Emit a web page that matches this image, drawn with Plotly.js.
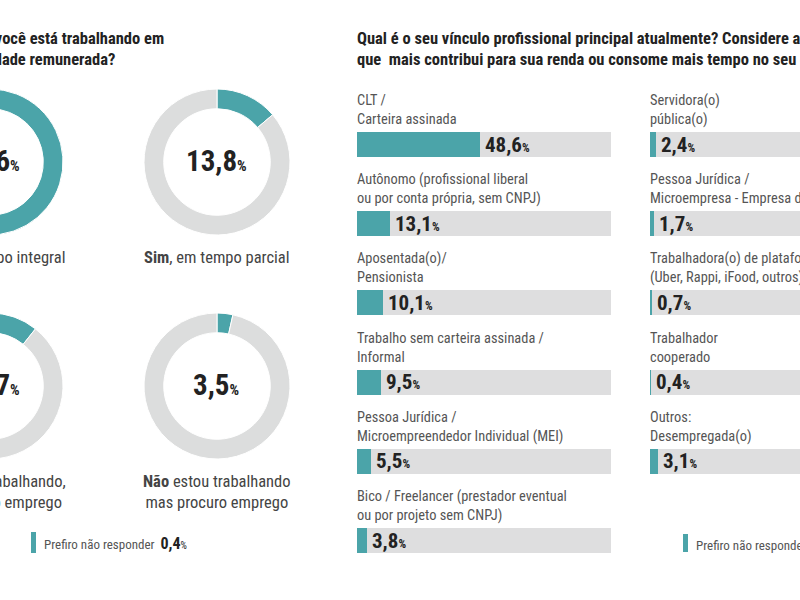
<!DOCTYPE html>
<html>
<head>
<meta charset="utf-8">
<script src="https://cdn.plot.ly/plotly-3.0.1.min.js"></script>
<style>
  html, body { margin: 0; padding: 0; background: #fff; overflow: hidden; }
  #frame { position: relative; width: 800px; height: 600px; overflow: hidden; background: #fff; }
  #chart { position: absolute; left: -100px; top: 0; width: 1010px; height: 600px; }
</style>
</head>
<body>
<div id="frame"><div id="chart"></div></div>
<script>
// ---- data: employment status (donuts) ----
const donutLead = ['Sim', 'Sim', 'Não', 'Não'];
const donutRest = [', em tempo integral', ', em tempo parcial',
                   ' estou trabalhando,<br>nem procuro emprego',
                   ' estou trabalhando<br>mas procuro emprego'];
const donutValues = [71.6, 13.8, 10.7, 3.5];
const donutNoAnswer = 0.4;

// ---- data: main professional bond (bars) ----
const leftCategories = [
  'CLT /<br>Carteira assinada',
  'Autônomo (profissional liberal<br>ou por conta própria, sem CNPJ)',
  'Aposentada(o)/<br>Pensionista',
  'Trabalho sem carteira assinada /<br>Informal',
  'Pessoa Jurídica /<br>Microempreendedor Individual (MEI)',
  'Bico / Freelancer (prestador eventual<br>ou por projeto sem CNPJ)'
];
const leftValues = [48.6, 13.1, 10.1, 9.5, 5.5, 3.8];
const rightCategories = [
  'Servidora(o)<br>pública(o)',
  'Pessoa Jurídica /<br>Microempresa - Empresa de Pequeno Porte',
  'Trabalhadora(o) de plataforma<br>(Uber, Rappi, iFood, outros)',
  'Trabalhador<br>cooperado',
  'Outros:<br>Desempregada(o)'
];
const rightValues = [2.4, 1.7, 0.7, 0.4, 3.1];
const barsNoAnswer = 1.1;

const titleLeft = ['Atualmente, você está trabalhando em', 'alguma atividade remunerada?'];
const titleRight = ['Qual é o seu vínculo profissional principal atualmente? Considere a atividade',
                    'que  mais contribui para sua renda ou consome mais tempo no seu dia a dia'];

// ---- styling ----
const TEAL = '#4ba4a9';
const RING = '#dcdddd';
const TRACK = '#dededf';
const DARK = '#222222';
const MID = '#555555';

function pickFont(candidates, fallback) {
  const ctx = document.createElement('canvas').getContext('2d');
  const probe = 'mmmmmmmmmwwwlliiQ 0123';
  for (const name of candidates) {
    for (const base of ['monospace', 'serif']) {
      ctx.font = '72px ' + base;
      const w0 = ctx.measureText(probe).width;
      ctx.font = '72px "' + name + '", ' + base;
      if (ctx.measureText(probe).width !== w0) return name;
    }
  }
  return fallback;
}
const FONT = pickFont(['Roboto Condensed', 'Liberation Sans Narrow', 'DejaVu Sans Condensed', 'Arial Narrow'], 'Roboto');

// canvas geometry (the drawing is wider than the visible frame)
const W = 1010, H = 600, OX = 100;
const px = vx => (vx + OX) / W;
const py = vy => 1 - vy / H;

const fmt = v => v.toFixed(1).replace('.', ',');

const traces = [];
const annotations = [];
const shapes = [];

// ---- donuts ----
const donutCX = [-10, 217], donutCY = [162, 386], R = 73;
donutValues.forEach((v, i) => {
  const cx = donutCX[i % 2], cy = donutCY[Math.floor(i / 2)];
  traces.push({
    type: 'pie', values: [v, 100 - v], sort: false, direction: 'clockwise', rotation: 0,
    hole: 0.73, textinfo: 'none', hoverinfo: 'skip', showlegend: false,
    marker: { colors: [TEAL, RING], line: { color: '#ffffff', width: 1 } },
    domain: { x: [px(cx - R), px(cx + R)], y: [py(cy + R), py(cy - R)] }
  });
  annotations.push({
    xref: 'paper', yref: 'paper', x: px(cx - 1), y: py(cy - 1), xanchor: 'center', yanchor: 'middle',
    showarrow: false, text: fmt(v) + "<span style='font-size:15px'>%</span>",
    font: { family: FONT, size: 29, color: DARK, weight: 700 }
  });
  annotations.push({
    xref: 'paper', yref: 'paper', x: px(cx), y: py(cy + 84), xanchor: 'center', yanchor: 'top',
    showarrow: false, align: 'center', text: '<b>' + donutLead[i] + '</b>' + donutRest[i],
    font: { family: FONT, size: 16.5, color: '#444444' }
  });
});

// left titles (one annotation per line)
[166, 117].forEach((endX, k) => {
  annotations.push({
    xref: 'paper', yref: 'paper', x: px(endX), y: py(39 + 20 * k), xanchor: 'right', yanchor: 'middle',
    showarrow: false, text: titleLeft[k], font: { family: FONT, size: 16.5, color: DARK, weight: 700 }
  });
});

// no-answer note under donuts
shapes.push({ type: 'rect', xref: 'paper', yref: 'paper', x0: px(31), x1: px(36), y0: py(553), y1: py(532),
  fillcolor: TEAL, line: { width: 0 } });
annotations.push({
  xref: 'paper', yref: 'paper', x: px(42), y: py(543), xanchor: 'left', yanchor: 'middle', showarrow: false,
  text: "Prefiro não responder  <span style='font-size:16px;color:#222'><b>" + fmt(donutNoAnswer) +
        "</b></span><span style='font-size:10px;color:#222'>%</span>",
  font: { family: FONT, size: 13, color: MID }
});

// ---- bars ----
const UNIT = 2.54;            // px per percentage point
const BAR_X0 = 357;           // left column start (frame px)
const COL2 = (650 - BAR_X0) / UNIT;   // right column offset in % units
const ROW0 = 144.5, STEP = 79.2, BAR_H = 25;

const cats = leftCategories.concat(rightCategories);
const vals = leftValues.concat(rightValues);
const rows = leftValues.map((_, i) => i).concat(rightValues.map((_, i) => i));
const bases = leftValues.map(() => 0).concat(rightValues.map(() => COL2));

traces.push({
  type: 'bar', orientation: 'h', x: vals.map(() => 100), base: bases, y: rows,
  width: BAR_H / STEP, marker: { color: TRACK }, hoverinfo: 'skip', showlegend: false,
  xaxis: 'x', yaxis: 'y'
});
traces.push({
  type: 'bar', orientation: 'h', x: vals, base: bases, y: rows,
  width: BAR_H / STEP, marker: { color: TEAL }, hoverinfo: 'skip', showlegend: false,
  xaxis: 'x', yaxis: 'y'
});

cats.forEach((c, i) => {
  annotations.push({
    xref: 'x', yref: 'y', x: bases[i], y: rows[i], xanchor: 'left', yanchor: 'bottom',
    xshift: -2, yshift: BAR_H / 2 + 2, showarrow: false, align: 'left', text: c,
    font: { family: FONT, size: 14.4, color: MID }
  });
  annotations.push({
    xref: 'x', yref: 'y', x: bases[i] + vals[i], y: rows[i], xanchor: 'left', yanchor: 'middle',
    xshift: 3, showarrow: false, text: fmt(vals[i]) + "<span style='font-size:12px'>%</span>",
    font: { family: FONT, size: 21, color: DARK, weight: 700 }
  });
});

titleRight.forEach((line, k) => {
  annotations.push({
    xref: 'paper', yref: 'paper', x: px(BAR_X0 - 2), y: py(39 + 20 * k), xanchor: 'left', yanchor: 'middle',
    showarrow: false, align: 'left', text: line,
    font: { family: FONT, size: 16.5, color: DARK, weight: 700 }
  });
});

shapes.push({ type: 'rect', xref: 'paper', yref: 'paper', x0: px(683), x1: px(688), y0: py(552), y1: py(534),
  fillcolor: TEAL, line: { width: 0 } });
annotations.push({
  xref: 'paper', yref: 'paper', x: px(694), y: py(544), xanchor: 'left', yanchor: 'middle', showarrow: false,
  text: "Prefiro não responder  <span style='font-size:16px;color:#222'><b>" + fmt(barsNoAnswer) +
        "</b></span><span style='font-size:10px;color:#222'>%</span>",
  font: { family: FONT, size: 13, color: MID }
});

const layout = {
  width: W, height: H,
  margin: { l: 0, r: 0, t: 0, b: 0, pad: 0 },
  paper_bgcolor: '#ffffff', plot_bgcolor: 'rgba(0,0,0,0)',
  barmode: 'overlay', bargap: 0,
  xaxis: { domain: [px(BAR_X0), 1], range: [0, (W - (BAR_X0 + OX)) / UNIT], visible: false, fixedrange: true },
  yaxis: { domain: [0, 1], range: [(H - ROW0) / STEP, -ROW0 / STEP], visible: false, fixedrange: true },
  showlegend: false,
  annotations: annotations,
  shapes: shapes,
  font: { family: FONT }
};

Plotly.newPlot('chart', traces, layout, { staticPlot: true, displayModeBar: false });
</script>
</body>
</html>
